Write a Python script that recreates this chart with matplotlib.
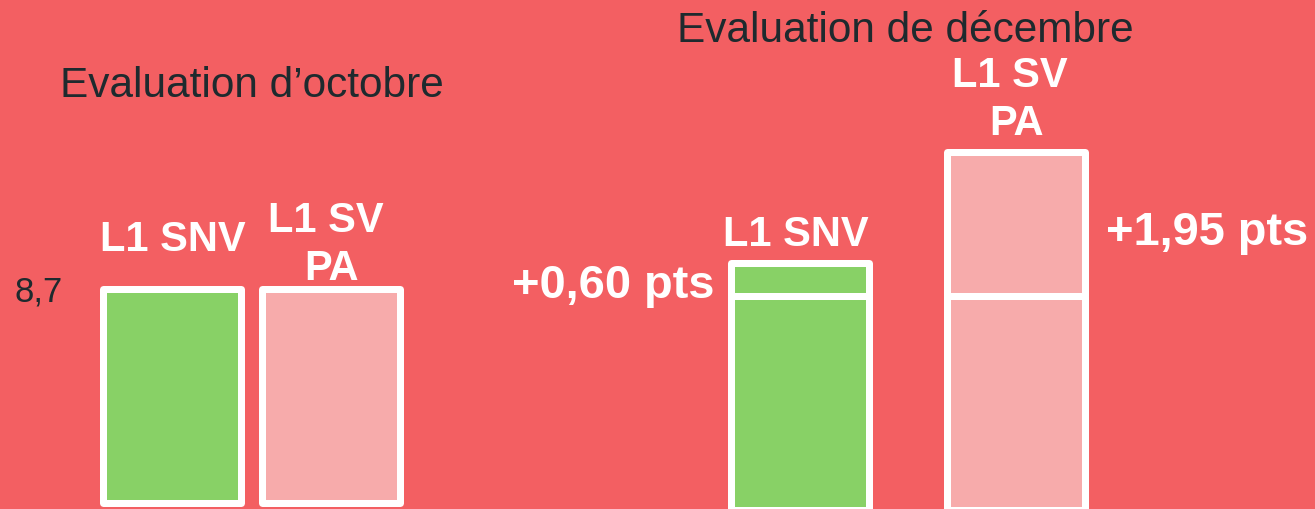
import matplotlib
matplotlib.use("Agg")
import matplotlib.pyplot as plt

# --- data ---
groups = ["Evaluation d’octobre", "Evaluation de décembre"]
series = ["L1 SNV", "L1 SV \nPA"]
oct_scores = [8.7, 8.7]
dec_base = [8.6, 8.6]
dec_gain = [0.45, 1.95]          # drawn height of the extra segment
gain_labels = ["+0,60 pts", "+1,95 pts"]
ref_label = "8,7"

# --- layout (pixels) ---
W, H = 1315, 509
BG = "#F35F62"
COLORS = ["#88D166", "#F7ABAB"]
DARK = "#1E2A2E"
oct_x = [172.5, 331.5]
dec_x = [800.5, 1016]
bar_w = 138
edge_px = 7
px_per_unit = 73.8
y_top = 8.7 + 288.5 / px_per_unit
y_bot = y_top - H / px_per_unit
oct_bottom = 5.79
dec_bottom = 5.70

plt.rcParams["font.family"] = ["Liberation Sans", "DejaVu Sans"]

fig = plt.figure(figsize=(W / 100, H / 100), dpi=100, facecolor=BG)
ax = fig.add_axes([0, 0, 1, 1])
ax.set_facecolor(BG)
ax.set_xlim(0, W)
ax.set_ylim(y_bot, y_top)
ax.axis("off")

lw = edge_px * 72 / 100
bar_kw = dict(width=bar_w, edgecolor="white", linewidth=lw, joinstyle="round")

# october bars
for x, v, c in zip(oct_x, oct_scores, COLORS):
    ax.bar(x, v - oct_bottom, bottom=oct_bottom, color=c, **bar_kw)

# december bars: base + gain on top
for x, b, g, c in zip(dec_x, dec_base, dec_gain, COLORS):
    ax.bar(x, b - dec_bottom, bottom=dec_bottom, color=c, **bar_kw)
    ax.bar(x, g, bottom=b, color=c, **bar_kw)


def put(x, y, s, **kw):
    # x, y in pixels from the top-left corner
    fig.text(x / W, 1 - y / H, s, **kw)


put(60, 97, groups[0], fontsize=30.5, color=DARK, va="baseline")
put(677, 42, groups[1], fontsize=30.5, color=DARK, va="baseline")
put(14, 301, ref_label, fontsize=25, color=DARK, va="baseline")

lab = dict(fontsize=30, color="white", fontweight="bold", ha="center",
           va="baseline", linespacing=1.25)
put(oct_x[0], 251, series[0], **lab)
put(oct_x[1], 280, series[1], **lab)
put(dec_x[0] - 5, 246, series[0], **lab)
put(dec_x[1], 135, series[1], **lab)

pts = dict(fontsize=33.8, color="white", fontweight="bold", va="baseline")
put(714, 298, gain_labels[0], ha="right", **pts)
put(1106, 245, gain_labels[1], ha="left", **pts)

fig.savefig("out.png", dpi=100, facecolor=BG)
